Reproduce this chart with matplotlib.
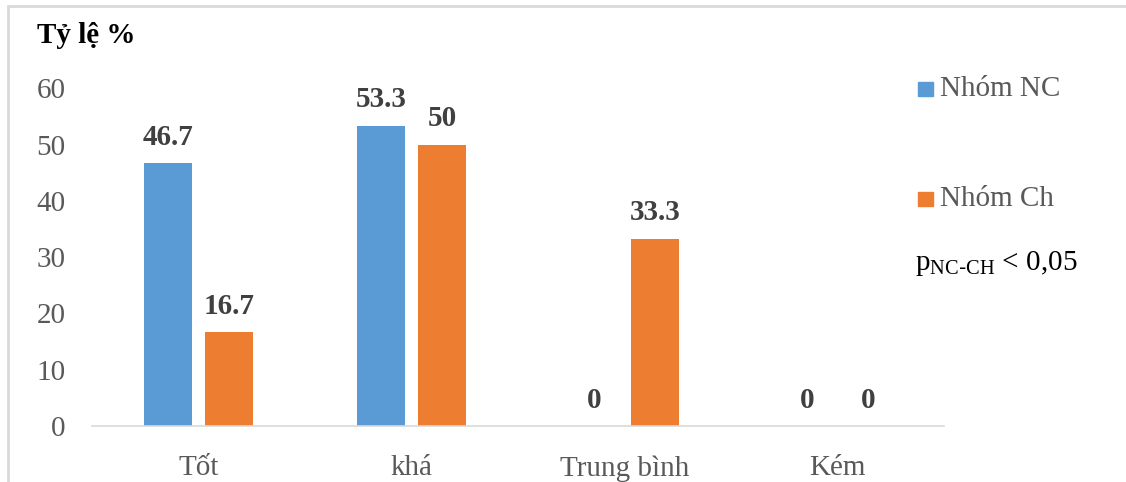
import numpy as np
import matplotlib
matplotlib.use("Agg")
import matplotlib.pyplot as plt
from matplotlib.patches import Rectangle

categories = ["Tốt", "khá", "Trung bình", "Kém"]
nhom_nc = [46.7, 53.3, 0, 0]
nhom_ch = [16.7, 50, 33.3, 0]
series_names = ["Nhóm NC", "Nhóm Ch"]
yticks = [0, 10, 20, 30, 40, 50, 60]

blue = "#5B9BD5"
orange = "#ED7D31"
grey = "#595959"

plt.rcParams['font.family'] = ['Liberation Serif', 'DejaVu Serif']

fig = plt.figure(figsize=(11.26, 4.82), dpi=100)
ax = fig.add_axes([0.0817, 0.116, 0.757, 0.701])

x = np.arange(len(categories))
w = 0.225
off = 0.143
b1 = ax.bar(x - off, nhom_nc, w, color=blue, label=series_names[0])
b2 = ax.bar(x + off, nhom_ch, w, color=orange, label=series_names[1])

for bars, vals in ((b1, nhom_nc), (b2, nhom_ch)):
    for r, v in zip(bars, vals):
        lab = ('%g' % v)
        ax.annotate(lab, (r.get_x() + r.get_width() / 2, v), xytext=(0, 9),
                    textcoords='offset points', ha='center', va='bottom',
                    fontsize=21, fontweight='bold', color='#404040')

ax.set_xlim(-0.5, 3.5)
ax.set_ylim(0, 60)
ax.set_yticks(yticks)
ax.set_xticks(x)
ax.set_xticklabels(categories)
ax.tick_params(axis='both', length=0, labelsize=21, colors=grey)
ax.tick_params(axis='y', pad=19)
ax.tick_params(axis='x', pad=21)
for s in ('top', 'right', 'left'):
    ax.spines[s].set_visible(False)
ax.spines['bottom'].set_color('#D9D9D9')
ax.spines['bottom'].set_linewidth(1.2)

# title above axis
fig.text(0.033, 0.927, "Tỷ lệ %", fontsize=21, fontweight='bold', color='black', va='center')

# legend entries on the right
for yy, col, name in ((1 - 89 / 482, blue, series_names[0]), (1 - 199 / 482, orange, series_names[1])):
    fig.patches.append(Rectangle((0.8153, yy - 0.0155), 0.0133, 0.031, color=col,
                                 transform=fig.transFigure, figure=fig))
    fig.text(0.835, yy, name, fontsize=21, color=grey, va='center')

fig.text(0.8125, 1 - 264 / 482, r"p$_{\mathregular{NC\text{-}CH}}$ < 0,05", fontsize=21,
         color='black', va='center')

# outer chart frame
fig.patches.append(Rectangle((0.007, -0.1), 1.2, 1.087, fill=False, edgecolor='#D9D9D9',
                             linewidth=2, transform=fig.transFigure, figure=fig))

fig.savefig("out.png", dpi=100)
